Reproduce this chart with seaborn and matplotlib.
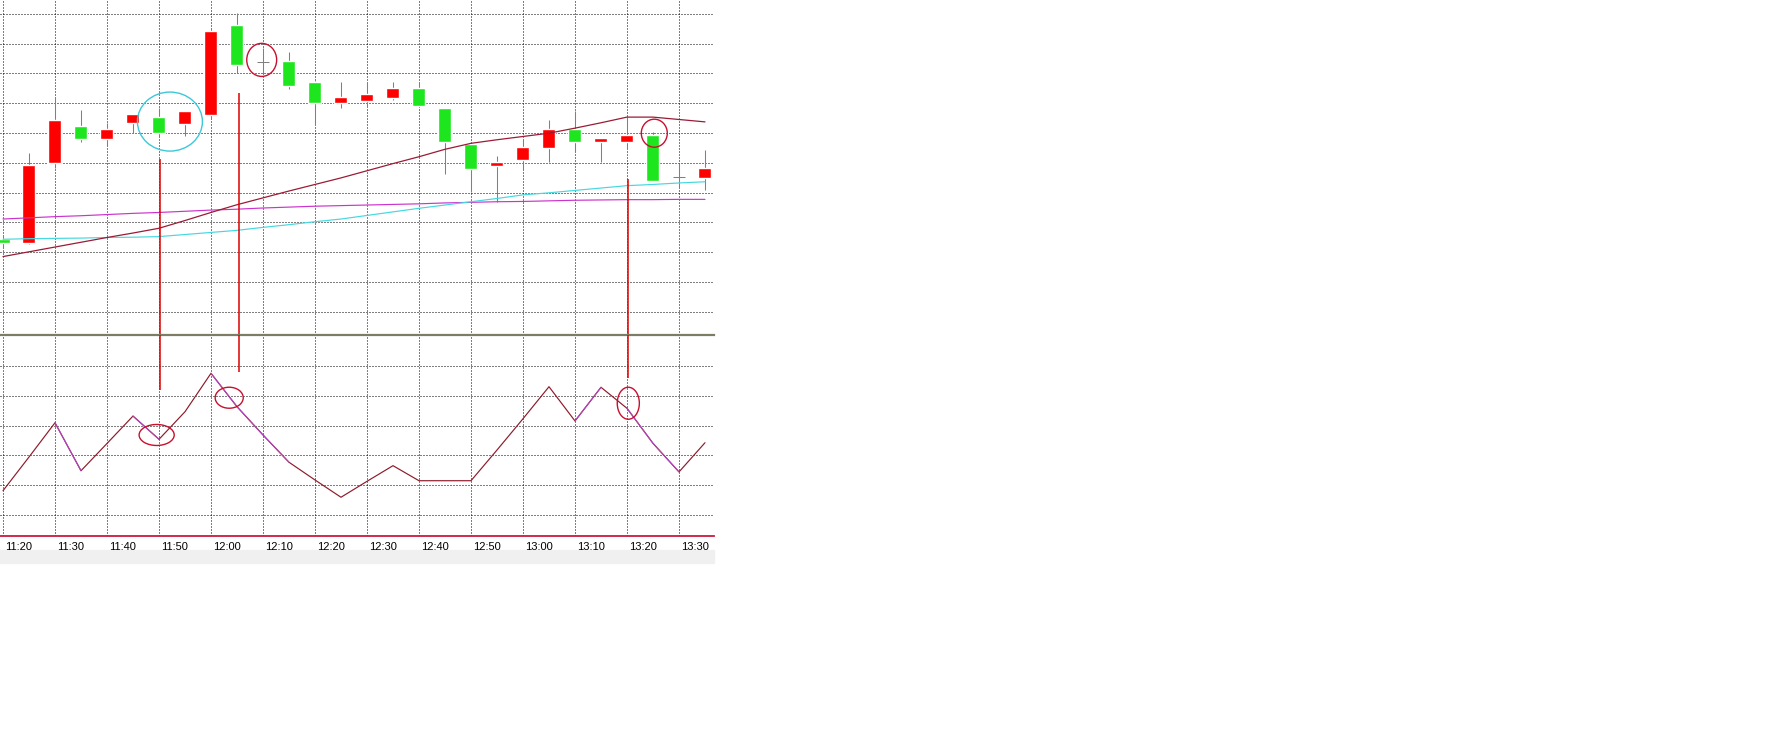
import numpy as np
import pandas as pd
import matplotlib
matplotlib.use('Agg')
import matplotlib.pyplot as plt
import seaborn as sns
from matplotlib.patches import Ellipse, Rectangle
from matplotlib.transforms import ScaledTranslation

# ── 5-minute bars 11:20 – 13:35 ───────────────────────────────────────────────
times = ['11:20', '11:25', '11:30', '11:35', '11:40', '11:45', '11:50',
         '11:55', '12:00', '12:05', '12:10', '12:15', '12:20', '12:25',
         '12:30', '12:35', '12:40', '12:45', '12:50', '12:55', '13:00',
         '13:05', '13:10', '13:15', '13:20', '13:25', '13:30', '13:35']

opens  = [10.244, 10.231, 10.500, 10.623, 10.581, 10.632, 10.654,
          10.631, 10.661, 10.962, 10.839, 10.841, 10.771, 10.701,
          10.708, 10.718, 10.751, 10.683, 10.563, 10.490, 10.510,
          10.550, 10.613, 10.570, 10.570, 10.593, 10.451, 10.450]
highs  = [10.254, 10.533, 10.721, 10.677, 10.632, 10.663, 10.683,
          10.673, 10.951, 11.001, 10.884, 10.872, 10.774, 10.772,
          10.766, 10.772, 10.766, 10.683, 10.563, 10.522, 10.576,
          10.643, 10.674, 10.583, 10.653, 10.604, 10.498, 10.543]
lows   = [10.214, 10.226, 10.481, 10.568, 10.559, 10.601, 10.587,
          10.591, 10.649, 10.802, 10.802, 10.747, 10.627, 10.683,
          10.690, 10.710, 10.691, 10.461, 10.401, 10.369, 10.479,
          10.501, 10.537, 10.501, 10.548, 10.440, 10.419, 10.408]
closes = [10.231, 10.492, 10.643, 10.581, 10.613, 10.663, 10.601,
          10.673, 10.942, 10.829, 10.839, 10.758, 10.701, 10.720,
          10.731, 10.751, 10.691, 10.570, 10.479, 10.501, 10.553,
          10.613, 10.570, 10.583, 10.593, 10.440, 10.451, 10.481]

# moving averages
ma_slow = [10.185, 10.201, 10.217, 10.233, 10.249, 10.264, 10.280,
           10.306, 10.333, 10.359, 10.382, 10.405, 10.427, 10.449,
           10.473, 10.497, 10.520, 10.545, 10.565, 10.577, 10.588,
           10.599, 10.616, 10.634, 10.653, 10.653, 10.645, 10.637]
ma_long = [10.311, 10.315, 10.319, 10.322, 10.326, 10.330, 10.333,
           10.337, 10.341, 10.344, 10.348, 10.351, 10.354, 10.356,
           10.358, 10.360, 10.362, 10.365, 10.367, 10.369, 10.370,
           10.372, 10.374, 10.375, 10.376, 10.376, 10.377, 10.377]
ma_fast = [10.243, 10.245, 10.246, 10.247, 10.249, 10.250, 10.252,
           10.259, 10.266, 10.273, 10.283, 10.292, 10.302, 10.311,
           10.323, 10.335, 10.347, 10.358, 10.369, 10.380, 10.392,
           10.399, 10.407, 10.415, 10.423, 10.427, 10.432, 10.436]

# oscillator (lower panel)
osc = [16.3, 38.9, 61.9, 29.7, 48.0, 66.4, 50.8,
       69.3, 95.1, 72.7, 53.7, 35.4, 23.5, 11.9,
       22.6, 33.1, 23.0, 23.0, 23.0, 43.6, 64.6,
       86.1, 63.1, 85.7, 71.6, 48.1, 28.9, 48.5]
# stretches where the second (purple) oscillator line shows on top
osc_purple_spans = [(2, 3), (5, 6), (8, 11), (22, 23), (24, 26)]

df = pd.DataFrame({'i': np.arange(len(times)), 'time': times,
                   'open': opens, 'high': highs, 'low': lows, 'close': closes,
                   'ma_slow': ma_slow, 'ma_long': ma_long, 'ma_fast': ma_fast,
                   'osc': osc})

# ── Figure ────────────────────────────────────────────────────────────────────
sns.set_style('white')
plt.rcParams['font.family'] = ['Liberation Sans', 'DejaVu Sans']

W, H = 1782, 743
fig = plt.figure(figsize=(W / 100, H / 100), dpi=100)
ax1 = fig.add_axes([0, 1 - 335 / H, 714 / W, 335 / H])
ax2 = fig.add_axes([0, 1 - 536 / H, 714 / W, 201 / H])

xlim = (-3 / 26, 711 / 26)
grid_kw = dict(color='black', linestyle=(0, (1, 2)), lw=0.72)

# candles
up = df['close'] > df['open']
dn = df['close'] < df['open']
flat = df['close'] == df['open']
ax1.vlines(df['i'], df['low'], df['high'], color='#808080', lw=0.75, zorder=2)
ax1.bar(df['i'][up], (df['close'] - df['open'])[up], bottom=df['open'][up],
        width=0.5, color='#ff0000', zorder=3)
ax1.bar(df['i'][dn], (df['open'] - df['close'])[dn], bottom=df['close'][dn],
        width=0.5, color='#1ee61e', zorder=3)
ax1.hlines(df['close'][flat], df['i'][flat] - 0.24, df['i'][flat] + 0.24,
           color='#808080', lw=0.75, zorder=3)

sns.lineplot(data=df, x='i', y='ma_long', color='#cc33cc', lw=0.85, ax=ax1, zorder=4)
sns.lineplot(data=df, x='i', y='ma_fast', color='#45d8e0', lw=0.85, ax=ax1, zorder=4)
sns.lineplot(data=df, x='i', y='ma_slow', color='#9b1b35', lw=0.9, ax=ax1, zorder=4)

ax1.set_xlim(*xlim)
ax1.set_ylim(9.9218, 11.046)
ax1.set_yticks(np.arange(10.0, 11.01, 0.1))
ax1.set_xticks(range(0, 28, 2))
ax1.grid(True, **grid_kw)
ax1.set_axisbelow(True)
ax1.tick_params(length=0, labelbottom=False, labelleft=False)
ax1.set_xlabel('')
ax1.set_ylabel('')
for s in ax1.spines.values():
    s.set_visible(False)

# oscillator
sns.lineplot(data=df, x='i', y='osc', color='#8e1a2a', lw=0.85, ax=ax2, zorder=3)
for a, b in osc_purple_spans:
    sns.lineplot(data=df.iloc[a:b + 1], x='i', y='osc', color='#b245c2',
                 lw=0.8, ax=ax2, zorder=4)

ax2.set_xlim(*xlim)
ax2.set_ylim(-14.1, 120.8)
ax2.set_yticks(np.arange(0, 101, 20))
ax2.set_xticks(range(0, 28, 2))
ax2.set_xticklabels(times[::2])
ax2.grid(True, **grid_kw)
ax2.set_axisbelow(True)
ax2.tick_params(axis='y', length=0, labelleft=False)
ax2.tick_params(axis='x', length=3, width=0.8, color='black', labelsize=8,
                pad=1.5, labelcolor='black')
ax2.set_xlabel('')
ax2.set_ylabel('')
for side in ['left', 'right']:
    ax2.spines[side].set_visible(False)
ax2.spines['top'].set_color('#7d7d66')
ax2.spines['top'].set_linewidth(1.6)
ax2.spines['bottom'].set_color('#cc1a3a')
ax2.spines['bottom'].set_linewidth(1.3)
shift = ScaledTranslation(2 / 100, 0, fig.dpi_scale_trans)
for lbl in ax2.get_xticklabels():
    lbl.set_horizontalalignment('left')
    lbl.set_transform(lbl.get_transform() + shift)

# ── Hand-drawn annotations ────────────────────────────────────────────────────
ax1.add_patch(Ellipse((6.42, 10.638), 2.5, 0.198, fill=False, ec='#3cc8d8', lw=1.0, zorder=5))
ax1.add_patch(Ellipse((9.95, 10.845), 1.15, 0.111, fill=False, ec='#c8102e', lw=1.0, zorder=5))
ax1.add_patch(Ellipse((25.05, 10.599), 1.0, 0.094, fill=False, ec='#c8102e', lw=1.0, zorder=5))
ax2.add_patch(Ellipse((5.91, 53.7), 1.35, 14.1, fill=False, ec='#c8102e', lw=1.0, zorder=5))
ax2.add_patch(Ellipse((8.70, 78.7), 1.08, 14.1, fill=False, ec='#c8102e', lw=1.0, zorder=5))
ax2.add_patch(Ellipse((24.05, 75.0), 0.85, 21.5, fill=False, ec='#c8102e', lw=1.0, zorder=5))

marks = [(6.04, 10.511, 83.9), (9.08, 10.733, 96.2), (24.02, 10.444, 91.7)]
for x, top, bottom in marks:
    ax1.vlines(x, 9.9218, top, color='#dd0000', lw=1.1, zorder=5)
    ax2.vlines(x, bottom, 120.8, color='#dd0000', lw=1.1, zorder=5)

# light band under the chart
fig.add_artist(Rectangle((0, 1 - 563 / H), 714 / W, 13 / H, transform=fig.transFigure,
                         color='#f0f0f0', zorder=0))

fig.savefig('out.png', dpi=100)
